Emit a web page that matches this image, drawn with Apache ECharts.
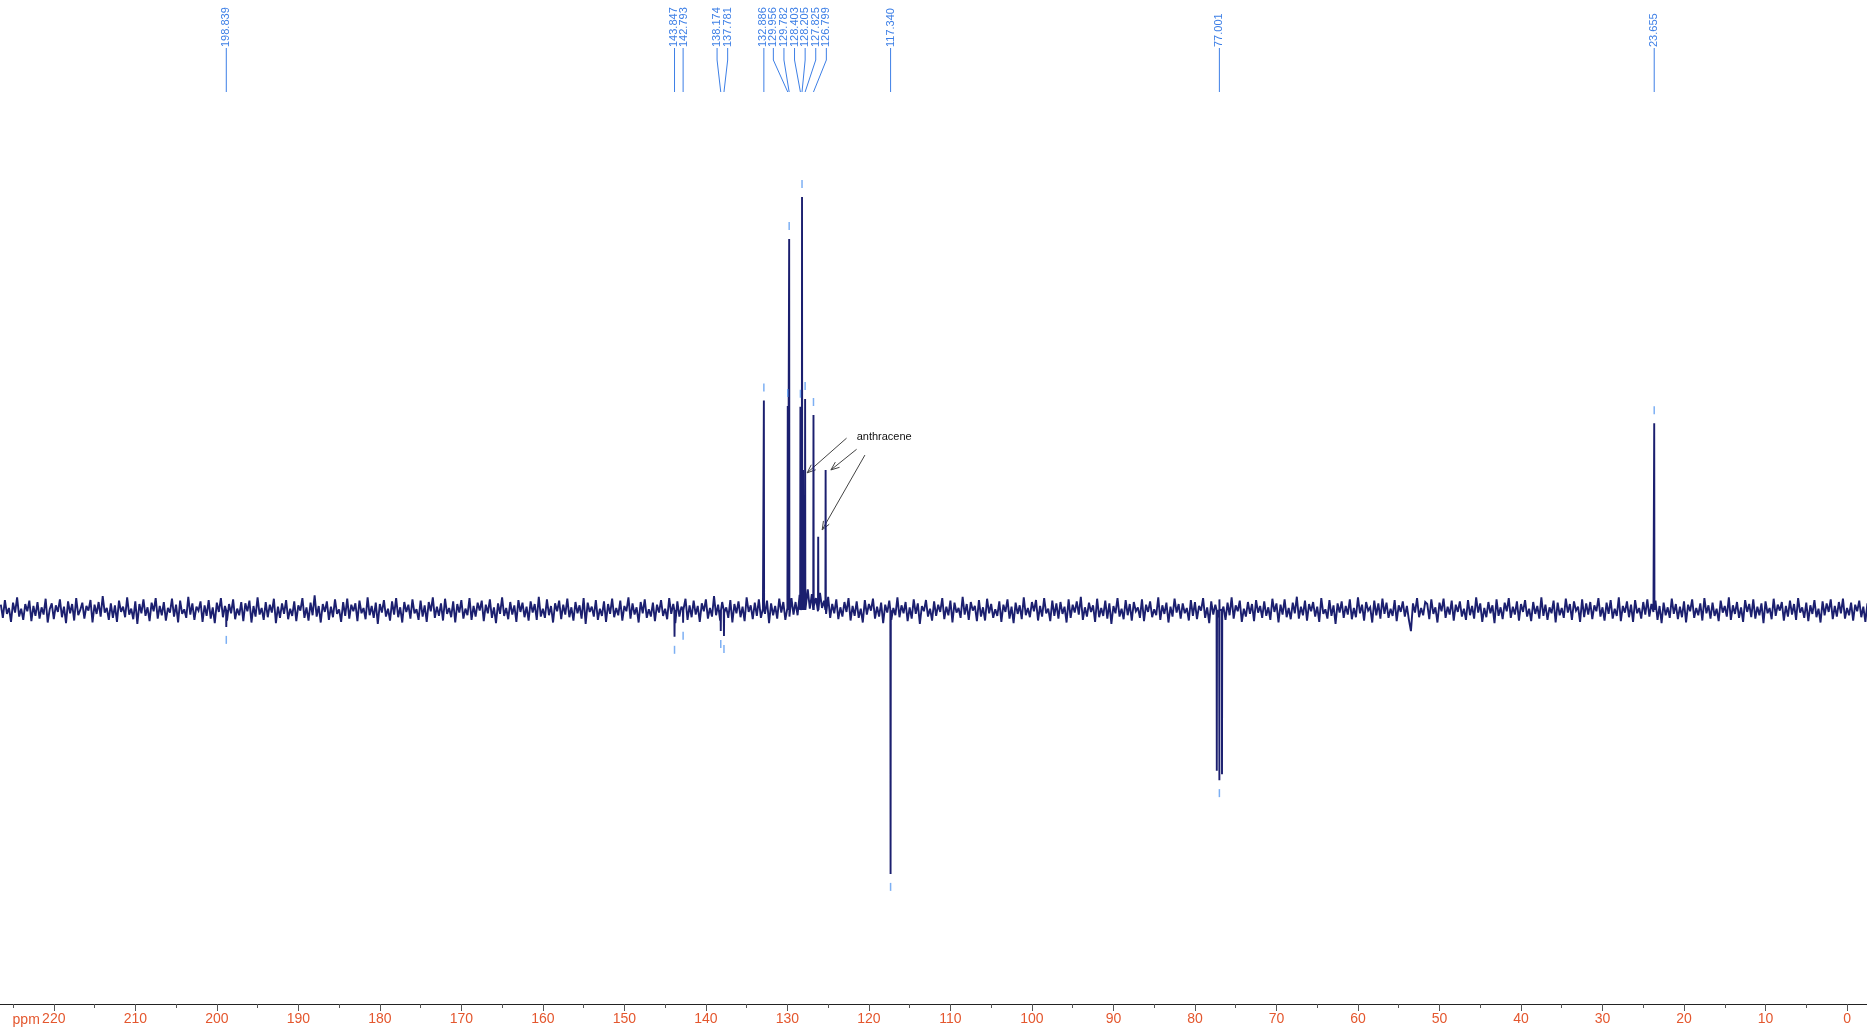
<!DOCTYPE html>
<html><head><meta charset="utf-8">
<script src="https://cdn.jsdelivr.net/npm/echarts@6/dist/echarts.min.js"></script>
<style>html,body{margin:0;padding:0;background:#fff}#c{width:1867px;height:1027px}</style>
</head><body><div id="c"></div>
<script>
// Baseline noise, sampled every noiseStep ppm starting at noiseStart.
// Values are in noise units; one noise unit = noiseUnit relative-intensity units (tallest peak = 100)
const noiseStart = 226.5, noiseStep = 0.25, noiseUnit = 1.6;
const baselineNoise = [
0.8,-1.2,1.5,-0.6,0.3,-1.8,1.1,-0.4,1.9,-1.0,0.2,-1.5,0.9,-0.2,1.4,-1.7,0.6,-0.9,1.2,-1.3,
0.4,-0.7,1.7,-1.9,0.1,1.0,-1.4,0.7,-0.3,1.6,-1.1,0.5,-2.0,1.3,-0.5,0.9,-1.6,1.8,-0.8,0.0,
1.1,-1.3,0.6,-0.1,1.5,-1.9,0.8,-0.6,1.2,-1.0,2.1,-0.4,0.3,-1.5,1.0,-1.2,0.7,-1.8,1.4,-0.3,
0.5,-1.1,1.9,-0.7,0.2,-1.4,1.3,-2.1,0.9,-0.5,1.6,-0.9,0.4,-1.7,1.1,-0.2,1.8,-1.3,0.6,-0.8,
1.2,-1.6,0.3,-0.4,1.7,-1.0,0.8,-1.9,1.4,-0.6,0.1,-1.2,2.0,-0.7,1.0,-1.5,0.5,-0.1,1.3,-1.8,
0.7,-0.9,1.5,-1.3,0.4,-2.0,1.1,-0.3,1.8,-1.1,0.6,-1.6,0.9,-0.5,1.6,-1.4,0.2,-0.8,1.2,-1.7,
1.0,-0.2,1.4,-1.9,0.6,-1.0,1.9,-0.7,0.3,-1.5,1.2,-1.1,0.8,-0.4,1.7,-2.0,0.5,-1.2,1.0,-0.6,
1.5,-1.4,0.2,-0.9,1.3,-1.7,0.7,-0.1,1.8,-1.2,0.4,-1.6,1.1,-0.8,2.2,-1.0,0.6,-1.9,0.9,-0.3,
1.3,-1.5,0.5,-1.1,1.6,-0.6,0.1,-1.8,1.2,-0.9,1.7,-1.3,0.8,-0.2,1.0,-1.7,1.4,-0.5,0.3,-1.4,
1.9,-0.8,0.6,-1.2,1.1,-2.1,0.9,-0.4,1.5,-1.0,0.2,-1.6,1.3,-0.7,1.8,-1.1,0.4,-1.9,1.2,-0.3,
0.8,-1.3,1.6,-0.5,0.1,-1.5,1.4,-1.0,0.7,-1.8,1.2,-0.2,1.9,-1.2,0.5,-0.9,1.0,-1.6,1.7,-0.6,
0.3,-1.1,1.3,-1.9,0.9,-0.4,1.5,-1.3,0.2,-0.8,1.8,-1.5,0.6,-1.0,1.1,-0.1,1.4,-1.7,0.8,-0.5,
1.6,-1.2,0.4,-2.0,1.0,-0.6,1.9,-0.9,0.3,-1.4,1.2,-0.7,0.7,-1.8,1.5,-0.3,1.1,-1.1,0.5,-1.6,
1.3,-0.4,0.9,-1.5,2.0,-1.0,0.2,-1.2,1.6,-0.8,0.6,-1.9,1.0,-0.2,1.4,-1.4,0.8,-0.7,1.7,-1.1,
0.4,-1.6,1.2,-0.5,0.7,-1.3,1.8,-2.1,1.1,-0.3,0.5,-1.0,1.5,-1.5,0.2,-0.9,1.3,-1.8,0.9,-0.6,
1.7,-1.1,0.3,-0.8,1.4,-1.6,0.6,-0.2,1.9,-1.3,1.0,-0.7,0.4,-1.9,1.2,-0.5,1.6,-1.2,0.1,-1.0,
1.1,-1.7,0.8,-0.4,1.5,-0.9,0.2,-1.4,1.8,-0.6,0.9,-2.0,1.3,-1.0,0.5,-0.3,1.7,-1.5,0.7,-1.1,
1.4,-0.7,0.6,-1.8,1.0,-0.2,1.6,-1.3,0.3,-1.0,2.1,-0.8,0.8,-1.6,1.2,-0.4,0.4,-1.2,1.5,-1.9,
0.9,-0.5,1.3,-1.1,0.5,-1.7,1.9,-0.3,0.7,-1.4,1.1,-0.9,1.6,-1.2,0.2,-0.6,1.4,-2.0,1.0,-0.8,
0.6,-1.3,1.7,-0.4,1.2,-1.5,0.3,-1.0,1.8,-0.7,1.2,-0.8,2.3,0.4,1.5,-0.3,3.1,0.2,2.4,0.6,
1.8,-0.2,2.6,0.3,1.4,-0.6,2.0,-1.2,0.9,-0.5,1.6,-1.4,0.4,-1.0,1.2,-0.3,1.8,-1.6,0.6,-0.9,
1.3,-1.2,0.2,-1.9,1.5,-0.7,0.9,-0.1,1.7,-1.3,0.5,-1.0,1.1,-2.0,0.8,-0.4,1.4,-1.5,0.3,-0.8,
1.9,-1.1,0.7,-0.5,1.2,-1.7,0.4,-1.3,1.6,-0.6,1.0,-2.1,0.6,-0.2,1.5,-1.0,0.2,-1.6,1.3,-0.9,
0.8,-0.3,1.8,-1.4,0.5,-0.8,1.4,-1.9,1.1,-0.4,0.3,-1.2,2.0,-0.7,0.9,-1.5,1.2,-0.1,0.6,-1.7,
1.5,-1.0,0.4,-1.6,1.7,-0.5,0.9,-1.2,0.1,-0.9,1.3,-1.8,0.8,-0.3,1.6,-1.3,0.5,-2.0,1.1,-0.6,
0.7,-1.4,1.9,-0.8,0.3,-1.1,1.2,-0.2,1.5,-1.6,0.6,-1.0,1.8,-0.5,0.2,-1.7,1.4,-0.9,1.0,-1.3,
1.2,-0.6,0.5,-1.9,1.6,-1.2,0.8,-0.4,1.3,-0.7,2.0,-1.5,0.4,-1.0,1.1,-0.3,0.7,-1.8,1.7,-1.1,
0.3,-0.9,1.4,-1.3,1.0,-2.1,0.6,-0.5,1.8,-1.0,0.2,-1.4,1.5,-0.8,0.9,-1.6,1.2,-0.2,0.4,-1.2,
1.6,-1.7,0.8,-0.3,1.3,-1.1,0.1,-0.8,1.9,-1.5,0.7,-0.6,1.1,-1.9,0.5,-1.0,1.7,-0.4,0.9,-1.3,
1.0,-0.5,0.3,-1.6,1.5,-0.9,1.2,-1.4,0.6,-0.1,1.8,-1.2,0.4,-2.0,1.3,-0.7,0.8,-1.1,1.6,-0.3,
0.5,-1.5,1.1,-0.8,1.9,-1.3,0.7,-0.2,1.4,-1.8,0.2,-1.0,1.2,-0.6,0.9,-1.7,1.5,-0.4,0.6,-1.2,
1.3,-0.9,0.4,-1.5,1.7,-0.3,1.0,-1.9,0.8,-0.7,1.6,-1.1,0.3,-1.4,1.1,-0.5,2.0,-1.3,0.5,-0.8,
1.4,-1.6,0.9,-0.2,1.2,-1.0,0.5,-1.8,1.8,-0.6,0.1,-1.3,1.5,-0.9,0.7,-2.1,1.0,-0.4,1.3,-1.2,
0.6,-0.7,1.6,-1.4,0.3,-1.1,1.9,-0.5,0.8,-1.6,1.2,-0.1,0.4,-1.9,1.4,-0.8,1.0,-1.3,1.7,-0.6,
1.1,-1.2,0.2,-0.9,1.5,-1.7,0.7,-0.3,1.3,-1.0,0.6,-1.5,-3.2,1.0,-0.4,1.8,-1.1,0.3,-0.8,1.2,
0.9,-1.4,1.6,-0.6,0.4,-1.9,1.1,-0.2,1.7,-1.2,0.5,-0.7,1.4,-1.6,0.8,-0.3,1.3,-1.0,0.2,-1.5,
1.5,-0.8,0.6,-1.3,1.9,-0.4,1.0,-1.8,0.3,-1.1,1.2,-0.5,0.7,-2.0,1.6,-0.9,0.4,-1.4,1.1,-0.2,
1.8,-1.2,0.5,-0.7,1.3,-1.6,0.9,-0.3,1.5,-1.0,0.2,-1.7,1.2,-0.6,0.6,-1.3,1.9,-0.9,0.8,-1.5,
0.4,-0.5,1.4,-1.9,1.1,-0.8,0.3,-1.2,1.7,-0.4,0.9,-1.5,1.3,-0.1,0.5,-1.8,1.6,-1.1,1.0,-0.7,
1.2,-1.4,0.7,-0.2,1.8,-1.0,0.4,-1.6,1.1,-0.6,1.5,-1.3,0.2,-0.9,1.9,-1.7,0.6,-0.4,1.3,-1.1,
0.8,-1.8,1.5,-0.5,0.3,-1.3,1.2,-0.7,1.6,-1.0,0.9,-0.3,1.4,-1.5,0.6,-2.0,1.1,-0.8,0.4,-1.2,
1.7,-0.6,0.9,-1.4,0.5,-1.1,1.3,-1.9,0.8,-0.2,1.6,-1.2,0.3,-0.8,1.0,-1.6,1.8,-0.5,0.7,-1.3,
1.1,-0.9,0.2,-1.7,1.4,-0.4,0.6,-1.0,1.9,-1.5,0.7,-0.6,1.2,-1.2,0.4,-1.8,1.5,-0.3,0.9,-1.1,
1.6,-1.3,0.5,-0.8,1.0,-2.0,1.3,-0.5,0.3,-1.4,1.7,-0.9,0.8,-0.1,1.2,-1.6,0.6,-1.0,1.4,-0.7,
0.9,-1.5,1.8,-0.4,0.4,-1.2,1.1,-1.7,0.7,-0.6,1.5,-1.1,0.2,-1.9,1.3,-0.8,1.0,-0.3,1.6,-1.4,
0.6,-1.0,1.2,-0.5,1.7,-1.3,0.3,-0.8,1.1,-1.6,0.8,-0.2,1.4,-1.1,0.5,-1.8,1.0,-0.6,1.3,-0.9
];
// Peaks (ppm) and heights (relative intensity; negative = inverted, DEPT-style)
const peakPpm    = [198.839, 143.847, 142.793, 138.174, 137.781, 132.886, 129.956, 129.782, 128.403, 128.205, 128.08, 127.825, 126.799, 126.22, 125.31, 117.340, 77.32, 77.001, 76.68, 23.655];
const peakHeight = [   -4.1,    -6.5,    -3.1,    -5.1,    -6.3,    50.7,    49.4,    89.8,    49.2,   100.0,   33.9,    51.1,    47.2,   17.7,   33.9,   -63.9, -38.9,  -41.2, -39.8,   45.2];
// Picked-peak labels along the top
const pickedLabels = ['198.839','143.847','142.793','138.174','137.781','132.886','129.956','129.782','128.403','128.205','127.825','126.799','117.340','77.001','23.655'];
// Axis ticks
const majorTicks = [0,10,20,30,40,50,60,70,80,90,100,110,120,130,140,150,160,170,180,190,200,210,220];
const minorTicks = [5,15,25,35,45,55,65,75,85,95,105,115,125,135,145,155,165,175,185,195,205,215,225];
// Annotation (data coordinates: ppm, intensity)
const annotationText = 'anthracene';
const annotationAt = [121.5, 41.9];
const arrowFrom = [[122.74, 41.6], [121.51, 38.9], [120.49, 37.5]];
const arrowTo   = [[127.57, 33.2], [124.66, 33.9], [125.73, 19.4]];

const X_MIN = -2.45, X_MAX = 226.6;
const pts = [];
baselineNoise.forEach((v, i) => pts.push([noiseStart - i * noiseStep, v * noiseUnit]));
peakPpm.forEach((p, i) => { pts.push([p + 0.03, 0], [p, peakHeight[i]], [p - 0.03, 0]); });
pts.sort((a, b) => b[0] - a[0]);

const markerData = pickedLabels.map(s => {
  const p = parseFloat(s);
  let best = 0;
  peakPpm.forEach((q, i) => { if (Math.abs(q - p) < Math.abs(peakPpm[best] - p)) best = i; });
  const h = peakHeight[best];
  return { value: [peakPpm[best], h], symbolOffset: [0, h > 0 ? -13 : 13] };
});

const chart = echarts.init(document.getElementById('c'));
const FONT = '"Liberation Sans", Arial, Helvetica, sans-serif';
const TICKFONT = '"Liberation Sans Narrow", "Liberation Sans", Arial, sans-serif';
chart.setOption({
  animation: false,
  backgroundColor: '#ffffff',
  grid: { left: 0, right: 0, top: 92, bottom: 23 },
  xAxis: [
    { type: 'value', min: X_MIN, max: X_MAX, inverse: true, position: 'bottom',
      axisLine: { onZero: false, lineStyle: { color: '#222', width: 1.2 } },
      axisTick: { customValues: majorTicks, length: 7, lineStyle: { color: '#555' } },
      axisLabel: { customValues: majorTicks, color: '#e4572e', fontSize: 14, fontFamily: TICKFONT, margin: 8 },
      splitLine: { show: false } },
    { type: 'value', min: X_MIN, max: X_MAX, inverse: true, position: 'bottom',
      axisLine: { show: false, onZero: false },
      axisTick: { customValues: minorTicks, length: 4, lineStyle: { color: '#555' } },
      axisLabel: { show: false }, splitLine: { show: false } }
  ],
  yAxis: { type: 'value', min: -95.4, max: 125.4, show: false },
  series: [
    { type: 'line', data: pts, xAxisIndex: 0, showSymbol: false, symbol: 'none', sampling: null,
      lineStyle: { color: '#1b1f6f', width: 1.9, join: 'miter', miterLimit: 3 }, z: 2 },
    { type: 'scatter', data: markerData, xAxisIndex: 0, symbol: 'rect', symbolSize: [1.5, 8],
      itemStyle: { color: '#5b9bf0' }, z: 3 }
  ]
});

// Top peak labels with leader lines
const px = v => chart.convertToPixel({ xAxisIndex: 0, yAxisIndex: 0 }, v);
const items = pickedLabels.map(s => ({ text: s, px: px([parseFloat(s), 0])[0] })).sort((a, b) => a.px - b.px);
const SP = 10.6;
let groups = items.map(it => ({ m: [it] }));
const gc = g => g.m.reduce((a, b) => a + b.px, 0) / g.m.length;
let merged = true;
while (merged) {
  merged = false;
  for (let i = 0; i < groups.length - 1; i++) {
    const a = groups[i], b = groups[i + 1];
    const aEnd = gc(a) + (a.m.length - 1) / 2 * SP;
    const bStart = gc(b) - (b.m.length - 1) / 2 * SP;
    if (bStart - aEnd < SP) { groups.splice(i, 2, { m: a.m.concat(b.m) }); merged = true; break; }
  }
}
const graphics = [];
const LBL = '#3d7fe6';
groups.forEach(g => {
  const c = gc(g), n = g.m.length;
  g.m.forEach((it, k) => {
    const lx = c - (n - 1) / 2 * SP + k * SP;
    graphics.push({ type: 'text', x: lx, y: 47, rotation: Math.PI / 2,
      style: { text: it.text, x: 0, y: 0, align: 'left', verticalAlign: 'middle', fill: LBL, font: '11px ' + FONT } });
    const ptsL = Math.abs(lx - it.px) < 1.2 ? [[it.px, 48], [it.px, 92]] : [[lx, 48], [lx, 60], [it.px, 92]];
    graphics.push({ type: 'polyline', shape: { points: ptsL }, style: { stroke: LBL, lineWidth: 1, fill: null } });
  });
});
// anthracene annotation
const ta = px(annotationAt);
graphics.push({ type: 'text', x: ta[0], y: ta[1], style: { text: annotationText, x: 0, y: 0, align: 'left', verticalAlign: 'middle', fill: '#111', font: '11px ' + FONT } });
arrowFrom.forEach((f, i) => {
  const a = px(f), b = px(arrowTo[i]);
  const th = Math.atan2(a[1] - b[1], a[0] - b[0]);
  const L = 9, w = 0.38;
  graphics.push({ type: 'line', shape: { x1: a[0], y1: a[1], x2: b[0], y2: b[1] }, style: { stroke: '#444', lineWidth: 1 } });
  graphics.push({ type: 'polyline', shape: { points: [[b[0] + L * Math.cos(th + w), b[1] + L * Math.sin(th + w)], [b[0], b[1]], [b[0] + L * Math.cos(th - w), b[1] + L * Math.sin(th - w)]] },
    style: { stroke: '#444', lineWidth: 1, fill: null } });
});
// "ppm" unit label left of 220
const p220 = px([220, 0])[0];
graphics.push({ type: 'text', x: p220 - 14, y: 1020, style: { text: 'ppm', x: 0, y: 0, align: 'right', verticalAlign: 'middle', fill: '#e4572e', font: '14px ' + TICKFONT } });
chart.setOption({ graphic: graphics });
</script>
</body></html>
